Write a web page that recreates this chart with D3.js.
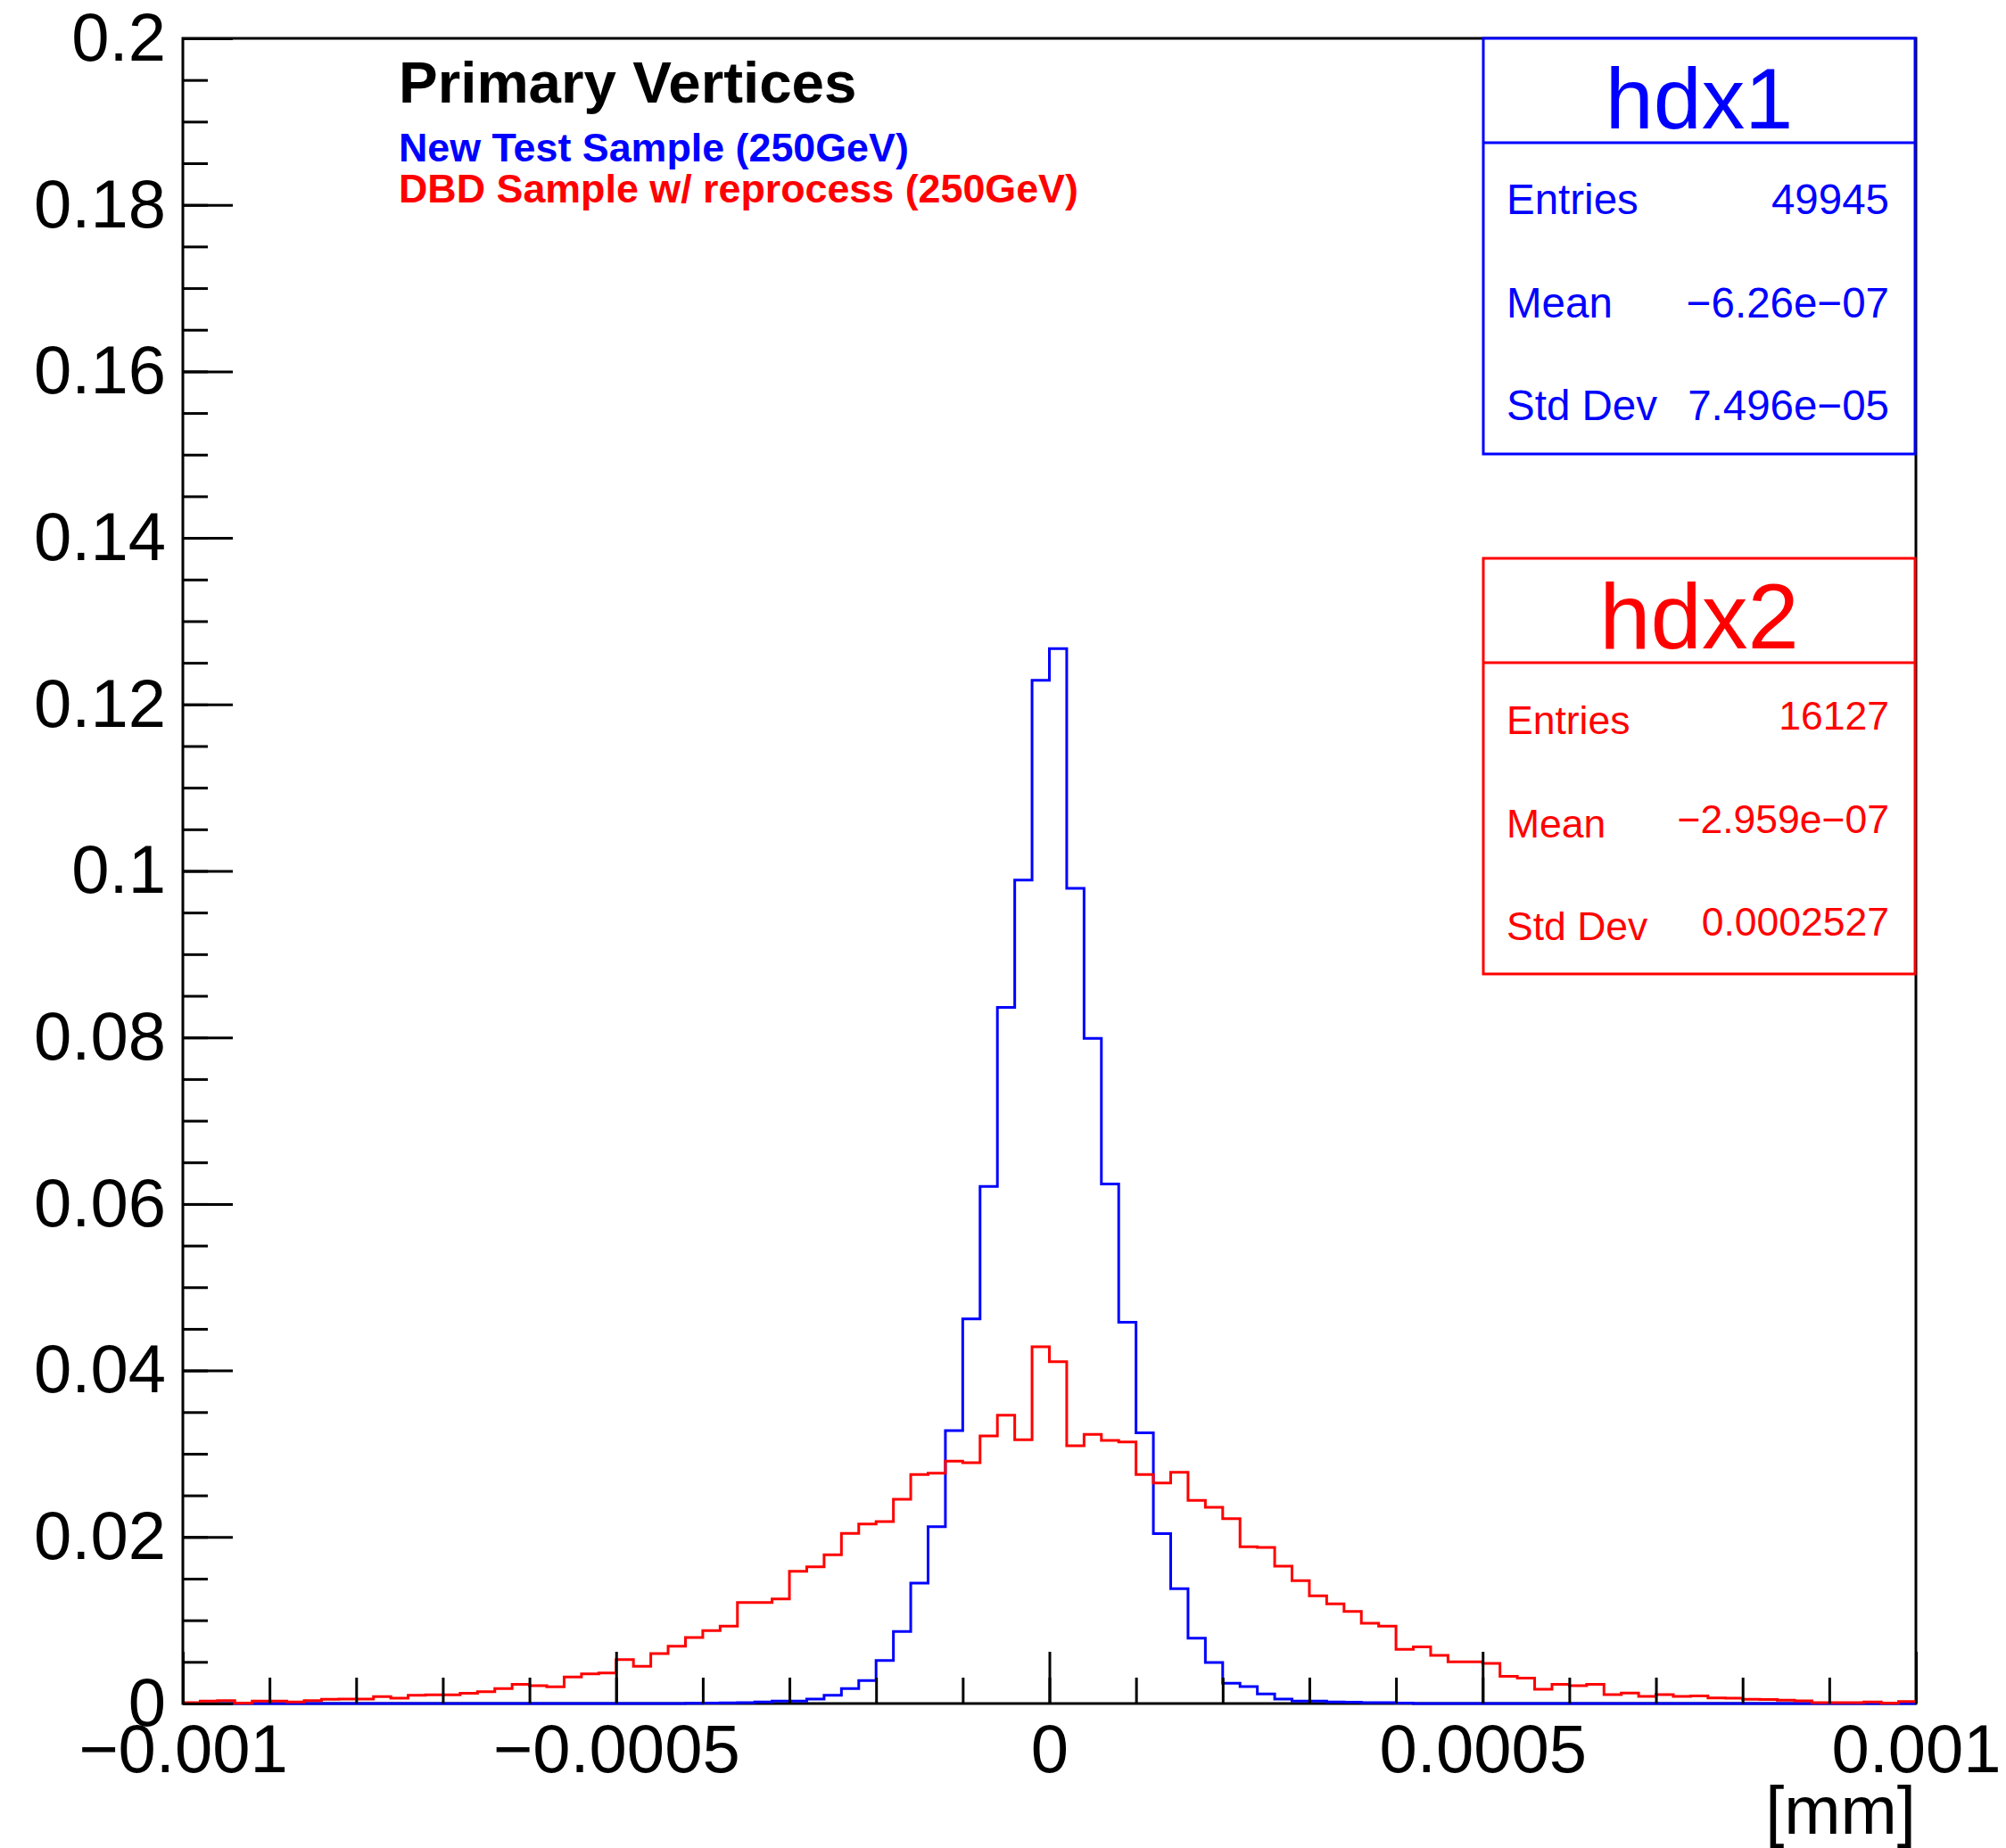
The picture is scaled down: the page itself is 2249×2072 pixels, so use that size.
<!DOCTYPE html>
<html>
<head>
<meta charset="utf-8">
<script src="https://cdn.jsdelivr.net/npm/d3@7/dist/d3.min.js"></script>
<style>
  body { margin: 0; background: #fff; }
  text { font-family: 'Liberation Sans', Arial, Helvetica, sans-serif; }
</style>
</head>
<body>
<div id="chart"></div>
<script>
/* eslint-disable no-undef */
const xMin = -0.001
const xMax = 0.001
const nBins = 100

// hdx1 (blue), normalised bin contents
const blueValues = [
  0, 0, 0, 0, 0, 0, 0, 0, 0, 0,
  0, 0, 0, 0, 0, 0, 0, 0, 0, 0,
  0, 0, 0, 0, 0, 0, 0, 0, 0, 0.00003,
  0.00005, 0.00008, 0.0001, 0.0002, 0.0003, 0.0003, 0.00054, 0.001, 0.00179, 0.00275,
  0.00518, 0.00864, 0.01446, 0.02125, 0.03278, 0.0462, 0.0621, 0.0836, 0.0989, 0.1229,
  0.1267, 0.0979, 0.0799, 0.0624, 0.0458, 0.0325, 0.0204, 0.0138, 0.00786, 0.00493,
  0.00243, 0.00204, 0.00114, 0.00054, 0.0003, 0.0003, 0.0002, 0.00015, 0.0001, 0.0001,
  0.00005, 0, 0, 0, 0, 0, 0, 0, 0, 0,
  0, 0, 0, 0, 0, 0, 0, 0, 0, 0,
  0, 0, 0, 0, 0, 0, 0, 0, 0, 0
]

// hdx2 (red)
const redValues = [
  0.0001, 0.0003, 0.00036, 0.00005, 0.0003, 0.0003, 0.0002, 0.00036, 0.0005, 0.00054,
  0.00054, 0.00082, 0.00064, 0.001, 0.00104, 0.00104, 0.00122, 0.00143, 0.00179, 0.00229,
  0.00214, 0.002, 0.00318, 0.00357, 0.00368, 0.00528, 0.00446, 0.006, 0.00689, 0.00793,
  0.00875, 0.00929, 0.01214, 0.01214, 0.01257, 0.01589, 0.01643, 0.01786, 0.02043, 0.02157,
  0.02185, 0.02453, 0.0275, 0.02767, 0.0291, 0.02892, 0.03214, 0.03464, 0.03167, 0.04285,
  0.04106, 0.03096, 0.03232, 0.0316, 0.03142, 0.0275, 0.02649, 0.02778, 0.02439, 0.02357,
  0.02221, 0.01882, 0.01875, 0.0165, 0.01475, 0.01293, 0.01196, 0.01107, 0.00964, 0.00929,
  0.0065, 0.0068, 0.00578, 0.005, 0.005, 0.00482, 0.00328, 0.00304, 0.00171, 0.00229,
  0.00214, 0.00229, 0.00107, 0.00125, 0.00086, 0.00107, 0.00086, 0.0009, 0.00068, 0.00064,
  0.0005, 0.00047, 0.0004, 0.00032, 0.0001, 0.0001, 0.0001, 0.0002, 0.00005, 0.00025
]

const xTicks = [-0.001, -0.0005, 0, 0.0005, 0.001]
const xTickLabels = ['\u22120.001', '\u22120.0005', '0', '0.0005', '0.001']
const yTicks = [0, 0.02, 0.04, 0.06, 0.08, 0.1, 0.12, 0.14, 0.16, 0.18, 0.2]
const yTickLabels = ['0', '0.02', '0.04', '0.06', '0.08', '0.1', '0.12', '0.14', '0.16', '0.18', '0.2']

const statLabels = ['Entries', 'Mean', 'Std Dev']
const hdx1Stats = ['49945', '\u22126.26e\u221207', '7.496e\u221205']
const hdx2Stats = ['16127', '\u22122.959e\u221207', '0.0002527']

const titleText = 'Primary Vertices'
const legendTexts = ['New Test Sample (250GeV)', 'DBD Sample w/ reprocess (250GeV)']

const W = 2249
const H = 2072
const margin = { top: 43, right: 101, bottom: 162, left: 205 }
const width = W - margin.left - margin.right
const height = H - margin.top - margin.bottom

const svg = d3.select('#chart')
  .append('svg')
  .attr('width', W)
  .attr('height', H)

const g = svg.append('g')
  .attr('transform', `translate(${margin.left},${margin.top})`)

const xScale = d3.scaleLinear().domain([xMin, xMax]).range([0, width])
const yScale = d3.scaleLinear().domain([0, 0.2]).range([height, 0])

const binWidth = (xMax - xMin) / nBins
const minorX = d3.range(0, 21).map(i => xMin + i * 0.0001)
const minorY = d3.range(0, 41).map(i => i * 0.005)

// frame
g.append('rect')
  .attr('x', 0)
  .attr('y', 0)
  .attr('width', width)
  .attr('height', height)
  .attr('fill', 'none')
  .attr('stroke', '#000')
  .attr('stroke-width', 3)

// histograms
const line = d3.line()
  .x(d => xScale(d[0]))
  .y(d => yScale(d[1]))
  .curve(d3.curveStepAfter)

function histPoints (values) {
  const pts = values.map((v, i) => [xMin + i * binWidth, v])
  pts.push([xMax, values[values.length - 1]])
  return pts
}

const series = [
  { values: blueValues, color: '#0000ff' },
  { values: redValues, color: '#ff0000' }
]

series.forEach(s => {
  g.append('path')
    .datum(histPoints(s.values))
    .attr('fill', 'none')
    .attr('stroke', s.color)
    .attr('stroke-width', 3)
    .attr('d', line)
})

// axes
const xMinorAxis = g.append('g')
  .attr('transform', `translate(0,${height})`)
  .call(d3.axisBottom(xScale).tickValues(minorX).tickSizeInner(-29).tickSizeOuter(0).tickFormat(''))

const xAxis = g.append('g')
  .attr('transform', `translate(0,${height})`)
  .call(d3.axisBottom(xScale).tickValues(xTicks).tickSizeInner(-58).tickSizeOuter(0)
    .tickPadding(23).tickFormat((d, i) => xTickLabels[i]))

const yMinorAxis = g.append('g')
  .call(d3.axisLeft(yScale).tickValues(minorY).tickSizeInner(-28).tickSizeOuter(0).tickFormat(''))

const yAxis = g.append('g')
  .call(d3.axisLeft(yScale).tickValues(yTicks).tickSizeInner(-56).tickSizeOuter(0)
    .tickPadding(19).tickFormat((d, i) => yTickLabels[i]))

;[xMinorAxis, xAxis, yMinorAxis, yAxis].forEach(a => {
  a.select('.domain').remove()
  a.selectAll('line').attr('stroke', '#000').attr('stroke-width', 3)
  a.selectAll('text')
    .attr('fill', '#000')
    .style('font-size', '76px')
    .style('font-family', "'Liberation Sans', Arial, sans-serif")
})

svg.append('text')
  .attr('x', margin.left + width)
  .attr('y', 2056)
  .attr('text-anchor', 'end')
  .style('font-size', '76px')
  .text('[mm]')

// title and legend
svg.append('text')
  .attr('x', 447)
  .attr('y', 115)
  .style('font-size', '65.5px')
  .style('font-weight', 'bold')
  .attr('fill', '#000')
  .text(titleText)

legendTexts.forEach((t, i) => {
  svg.append('text')
    .attr('x', 447)
    .attr('y', 181 + i * 46)
    .style('font-size', '44.8px')
    .style('font-weight', 'bold')
    .attr('fill', series[i].color)
    .text(t)
})

// stat boxes
function statBox (name, stats, color, top, titleSize, textSize, valueShift) {
  const left = 1663
  const right = 2147
  const boxH = 466
  const sep = 117
  svg.append('rect')
    .attr('x', left)
    .attr('y', top)
    .attr('width', right - left)
    .attr('height', boxH)
    .attr('fill', '#fff')
    .attr('stroke', color)
    .attr('stroke-width', 3)
  svg.append('line')
    .attr('x1', left)
    .attr('x2', right)
    .attr('y1', top + sep)
    .attr('y2', top + sep)
    .attr('stroke', color)
    .attr('stroke-width', 3)
  svg.append('text')
    .attr('x', (left + right) / 2)
    .attr('y', top + 101)
    .attr('text-anchor', 'middle')
    .style('font-size', titleSize + 'px')
    .attr('fill', color)
    .text(name)
  statLabels.forEach((lab, i) => {
    const y = top + 197 + i * 115.5
    svg.append('text')
      .attr('x', 1689)
      .attr('y', y)
      .style('font-size', textSize + 'px')
      .attr('fill', color)
      .text(lab)
    svg.append('text')
      .attr('x', 2118)
      .attr('y', y - valueShift)
      .attr('text-anchor', 'end')
      .style('font-size', textSize + 'px')
      .attr('fill', color)
      .text(stats[i])
  })
}

statBox('hdx1', hdx1Stats, '#0000ff', 43, 97, 47.5, 0)
statBox('hdx2', hdx2Stats, '#ff0000', 626, 103, 44.5, 5)
</script>
</body>
</html>
